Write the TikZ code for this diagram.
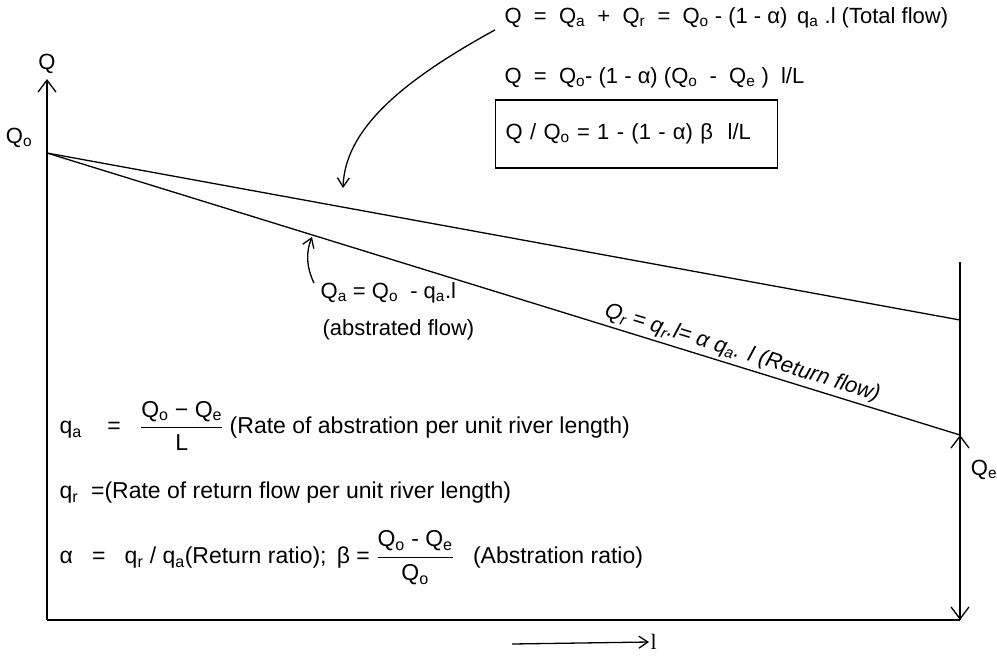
\documentclass[tikz,border=0pt]{standalone}
\usepackage{fontspec}
\usepackage{amsmath}
\setmainfont{Liberation Sans}
\newfontfamily\serifl{Liberation Serif}
\usetikzlibrary{arrows.meta}

\newcommand{\sbs}[1]{\textsubscript{#1}}
\newcommand{\frc}[2]{$\dfrac{\text{#1}}{\text{#2}}$}

\begin{document}
\begin{tikzpicture}[x=1pt, y=-1pt, line width=1.3pt,
  txt/.style={font=\fontsize{22}{26}\selectfont, inner sep=1pt},
  toptxt/.style={font=\fontsize{22}{26}\selectfont, inner sep=1pt},
  deftxt/.style={font=\fontsize{23}{27}\selectfont, inner sep=1pt},
  bigbarb/.style={-{Straight Barb[length=12pt, width=18pt]}},
  smallbarb/.style={-{Straight Barb[length=9pt, width=12pt]}}]

  \useasboundingbox (0,0) rectangle (997,657);

  % -- Axes --
  \coordinate (origin) at (47,620);
  \coordinate (qtop) at (47,79);
  \coordinate (xend) at (960,620);
  \coordinate (rtop) at (960,262);
  \draw[bigbarb] (origin) -- (qtop);
  \draw (origin) -- (xend);
  \draw (rtop) -- (xend);
  \node[txt] (qlbl) at (47,64) {Q};

  % -- Flow lines --
  \coordinate (qo) at (47,153);
  \coordinate (tot) at (960,320);
  \coordinate (qe) at (960,435);
  \node[txt] (qolbl) at (19,138) {Q\sbs{o}};
  \draw (qo) -- (tot);
  \draw (qo) -- (qe)
    node[pos=0.757, sloped, above=2pt, txt, font=\fontsize{22}{26}\selectfont\itshape] (retlbl)
    {Q\sbs{r} = q\sbs{r}.l= α q\sbs{a}. l (Return flow)};

  % -- Q_e dimension --
  \draw[{Straight Barb[length=12pt, width=18pt]}-{Straight Barb[length=12pt, width=18pt]}] (qe) -- (xend);
  \node[txt] (qelbl) at (984,470) {Q\sbs{e}};

  % -- Equations top right --
  \node[toptxt, anchor=west] (eqtot) at (503,18)
    {Q \ = \ Q\sbs{a} \ + \ Q\sbs{r} \ = \ Q\sbs{o} - (1 - α) \,q\sbs{a} .l (Total flow)};
  \node[toptxt, anchor=west] (eqq) at (503,78)
    {Q \ = \ Q\sbs{o}- (1 - α) (Q\sbs{o} \ - \ Q\sbs{e} ) \ l/L};
  \node[txt, draw, anchor=west, inner xsep=9pt, minimum width=282pt, minimum height=68pt,
        text width=262pt, align=left] (eqbox) at (495,134)
    {Q / Q\sbs{o} = 1 - (1 - α) β \ l/L};

  \coordinate (totpt) at (343,188);
  \draw[smallbarb] ([xshift=-8pt]eqtot.south west)
    .. controls (400,82) and (345,130) .. (totpt);

  % -- Abstracted flow --
  \node[txt, anchor=west] (qalbl) at (319,293) {Q\sbs{a} = Q\sbs{o} \ - q\sbs{a}.l};
  \node[txt, anchor=west] (abslbl) at (321,330) {(abstrated flow)};
  \coordinate (qapt) at (312,237);
  \draw[smallbarb] ([xshift=-5pt, yshift=-2pt]qalbl.north west) .. controls (306,266) and (306,252) .. (qapt);

  % -- Definitions --
  \node[deftxt, anchor=west] (qadef) at (58,426)
    {q\sbs{a} \ \ \ = \ \ \frc{Q\sbs{o} − Q\sbs{e}}{L} (Rate of abstration per unit river length)};
  \node[deftxt, anchor=west] (qrdef) at (58,493)
    {q\sbs{r} \ =(Rate of return flow per unit river length)};
  \node[deftxt, anchor=west] (ratios) at (58,558)
    {α \ \ = \ \ q\sbs{r} / q\sbs{a}(Return ratio); \,β = \frc{Q\sbs{o} - Q\sbs{e}}{Q\sbs{o}} \ \ (Abstration ratio)};

  % -- l direction --
  \coordinate (lstart) at (512,644);
  \node[txt, anchor=west] (llbl) at (649,642) {\serifl l};
  \draw[smallbarb] (lstart) -- (llbl.west);

\end{tikzpicture}
\end{document}
